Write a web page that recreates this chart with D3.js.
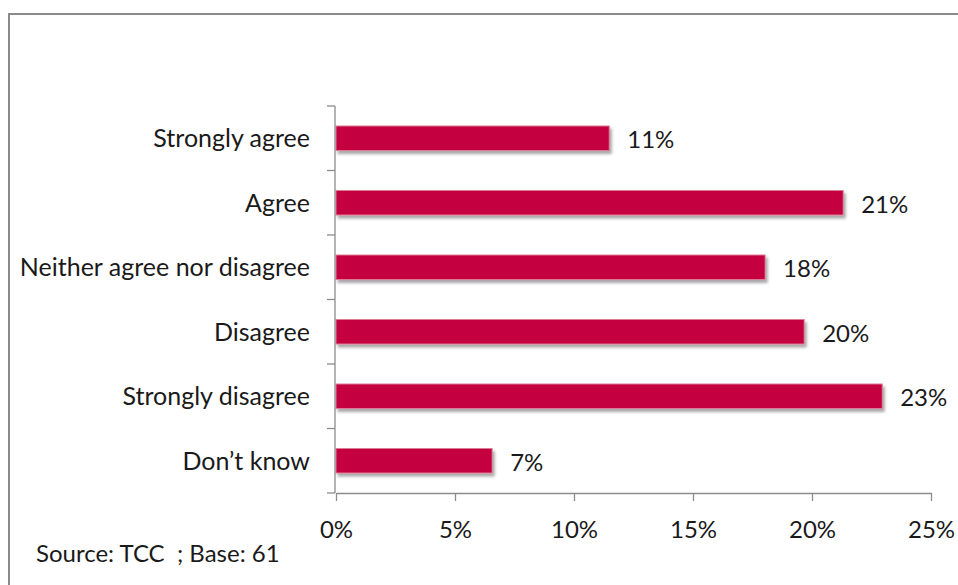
<!DOCTYPE html>
<html>
<head>
<meta charset="utf-8">
<script src="https://cdn.jsdelivr.net/npm/d3@7"></script>
<style>
  html, body { margin: 0; padding: 0; background: #fff; }
  svg { display: block; }
  text { font-family: Lato, "Open Sans", sans-serif; fill: #1a1a1a; }
</style>
</head>
<body>
<svg id="chart" width="958" height="585"></svg>
<script>
// Survey responses (share of respondents, %), base 61
const categories = ["Strongly agree", "Agree", "Neither agree nor disagree", "Disagree", "Strongly disagree", "Don\u2019t know"];
const shares = [11.48, 21.31, 18.03, 19.67, 22.95, 6.56];
const xTicks = [0, 5, 10, 15, 20, 25];
const sourceNote = "Source: TCC  ; Base: 61";

const svg = d3.select("#chart");
const W = 958, H = 585;

// outer frame (only top and left edges fall inside the view)
svg.append("rect")
  .attr("x", 9).attr("y", 14)
  .attr("width", W + 20).attr("height", H + 20)
  .attr("fill", "#fff")
  .attr("stroke", "#8a8a8a").attr("stroke-width", 2);

const defs = svg.append("defs");
const shadow = defs.append("filter").attr("id", "barShadow")
  .attr("x", "-5%").attr("y", "-30%").attr("width", "115%").attr("height", "180%");
shadow.append("feDropShadow")
  .attr("dx", 2).attr("dy", 3).attr("stdDeviation", 1.8)
  .attr("flood-color", "#000").attr("flood-opacity", 0.35);

const plot = { left: 336, right: 931, top: 106, bottom: 493 };

const x = d3.scaleLinear().domain([0, 25]).range([plot.left, plot.right]);
const y = d3.scaleBand().domain(categories).range([plot.top, plot.bottom]).paddingInner(0.62).paddingOuter(0.31);
const yb = d3.scaleBand().domain(categories).range([plot.top, plot.bottom]);

// bars
svg.append("g").selectAll("rect")
  .data(categories)
  .join("rect")
  .attr("x", x(0))
  .attr("y", d => y(d))
  .attr("width", (d, i) => x(shares[i]) - x(0))
  .attr("height", y.bandwidth())
  .attr("fill", "#c4003f")
  .attr("stroke", "#dd7c95").attr("stroke-width", 1)
  .attr("filter", "url(#barShadow)");

// value labels
const fmt = v => d3.format(".0f")(v) + "%";
svg.append("g").selectAll("text")
  .data(categories)
  .join("text")
  .attr("x", (d, i) => x(shares[i]) + 18)
  .attr("y", d => y(d) + y.bandwidth() / 2 + 10)
  .attr("font-size", 24)
  .text((d, i) => fmt(shares[i]));

// x axis
const xAxis = svg.append("g")
  .attr("transform", `translate(0,${plot.bottom})`)
  .call(d3.axisBottom(x).tickValues(xTicks).tickFormat(d => d + "%").tickSize(8).tickSizeOuter(0));
xAxis.select(".domain").attr("stroke", "#8c8c8c").attr("stroke-width", 1.3);
xAxis.selectAll(".tick line").attr("stroke", "#8c8c8c").attr("stroke-width", 1.3);
xAxis.selectAll(".tick text")
  .attr("y", 45).attr("dy", 0)
  .attr("font-size", 24).attr("fill", "#1a1a1a")
  .attr("font-family", "Lato, 'Open Sans', sans-serif");

// y axis: line, boundary ticks, category labels
const yAxis = svg.append("g");
yAxis.append("line")
  .attr("x1", plot.left - 1).attr("x2", plot.left - 1)
  .attr("y1", plot.top).attr("y2", plot.bottom)
  .attr("stroke", "#8c8c8c").attr("stroke-width", 1.3);
const bounds = categories.map(c => yb(c)).concat([plot.bottom]);
yAxis.selectAll("line.b")
  .data(bounds)
  .join("line").attr("class", "b")
  .attr("x1", plot.left - 9).attr("x2", plot.left - 1)
  .attr("y1", d => d).attr("y2", d => d)
  .attr("stroke", "#8c8c8c").attr("stroke-width", 1.3);
yAxis.selectAll("text")
  .data(categories)
  .join("text")
  .attr("x", plot.left - 26)
  .attr("y", d => yb(d) + yb.bandwidth() / 2 + 9)
  .attr("text-anchor", "end")
  .attr("font-size", 25)
  .text(d => d);

// source note
svg.append("text")
  .attr("x", 36).attr("y", 562)
  .attr("font-size", 24)
  .style("white-space", "pre")
  .text(sourceNote);
</script>
</body>
</html>
